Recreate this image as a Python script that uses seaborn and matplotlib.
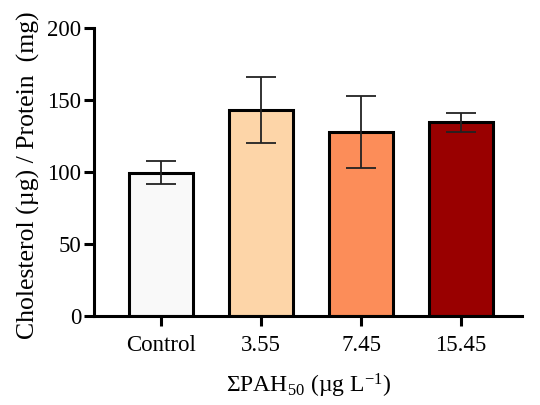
import matplotlib
matplotlib.use("Agg")
import matplotlib.pyplot as plt
import seaborn as sns
import pandas as pd
import numpy as np

categories = ["Control", "3.55", "7.45", "15.45"]
means = [99.5, 142.8, 128.0, 134.5]
errors = [8.0, 23.0, 25.0, 6.5]
colors = ["#f9f9f9", "#fdd5a8", "#fc8d59", "#990000"]

sns.set_theme(style="ticks")
plt.rcParams["font.family"] = ["Liberation Serif", "DejaVu Serif"]
plt.rcParams["mathtext.fontset"] = "custom"
plt.rcParams["mathtext.rm"] = "Liberation Serif"
plt.rcParams["mathtext.it"] = "Liberation Serif:italic"

df = pd.DataFrame({"group": categories, "value": means})

fig = plt.figure(figsize=(5.4, 4.05), dpi=100)
ax = fig.add_axes([0.174, 0.22, 0.793, 0.711])

sns.barplot(data=df, x="group", y="value", hue="group", palette=colors,
            order=categories, hue_order=categories, legend=False, saturation=1,
            width=0.64, edgecolor="black", linewidth=2.2, ax=ax, errorbar=None)

ax.errorbar(np.arange(len(categories)), means, yerr=errors, fmt="none",
            ecolor="#222222", elinewidth=1.3, capsize=11, capthick=1.3, zorder=5)

ax.set_xlim(-0.67, 3.61)
ax.set_ylim(0, 200)
ax.set_yticks([0, 50, 100, 150, 200])
sns.despine(ax=ax)
for s in ["left", "bottom"]:
    ax.spines[s].set_linewidth(2.2)
    ax.spines[s].set_color("black")
ax.tick_params(axis="both", width=2.2, length=7, color="black", labelsize=16.5, labelcolor="black")
ax.tick_params(axis="x", pad=7)
ax.tick_params(axis="y", pad=2)

ax.set_xlabel("ΣPAH$_{50}$ (µg L$^{\\mathrm{-1}}$)", fontsize=17, labelpad=11, color="black")
ax.set_ylabel("Cholesterol (µg) / Protein  (mg)", fontsize=18.5, labelpad=4, color="black")
ax.yaxis.set_label_coords(-0.125, 0.49)

fig.savefig("out.png", dpi=100)
